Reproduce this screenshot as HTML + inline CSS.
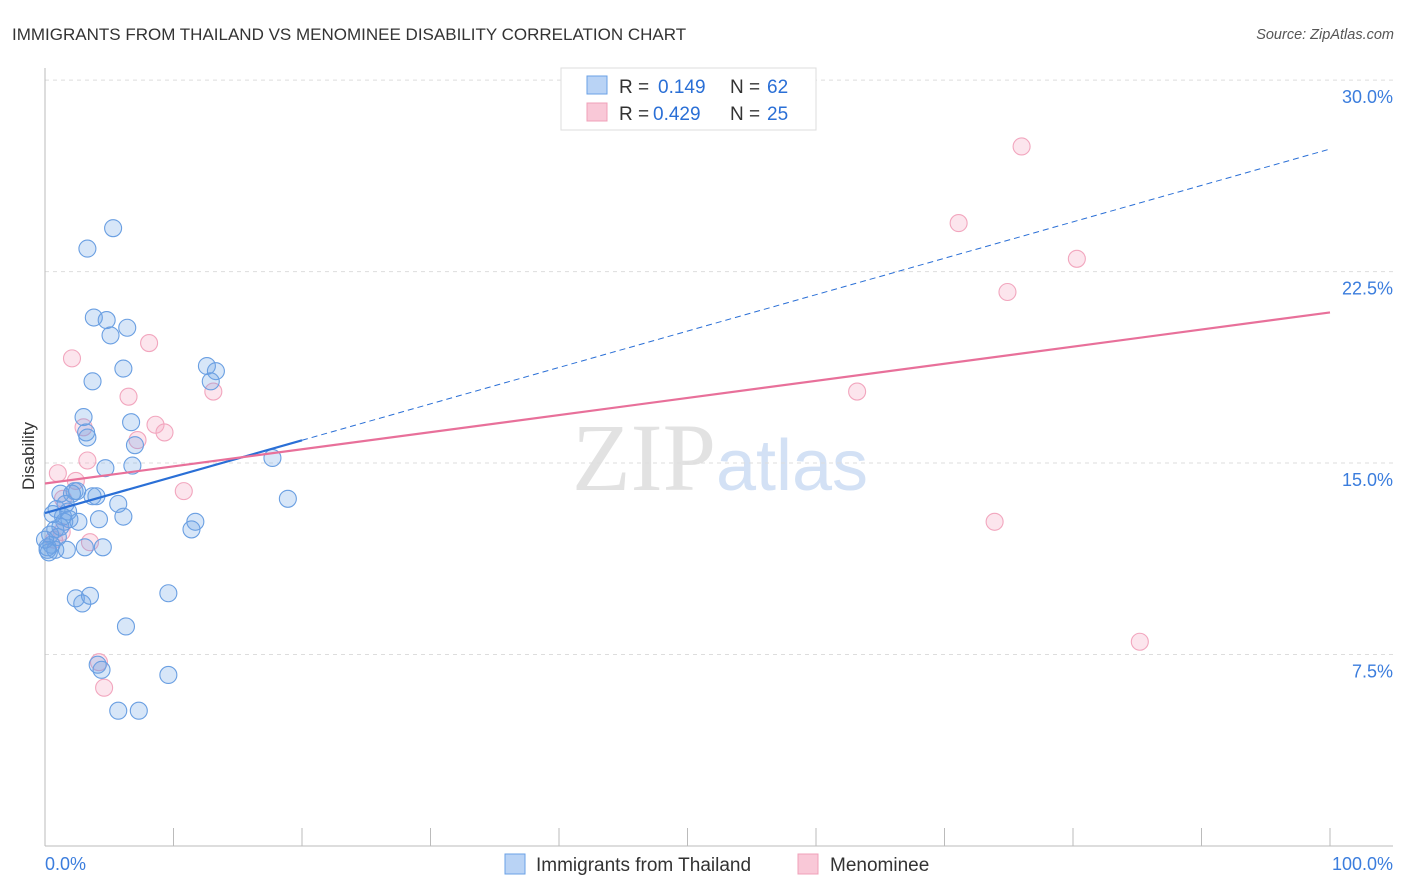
<!DOCTYPE html>
<html><head><meta charset="utf-8"><style>
body{margin:0;background:#fff;font-family:"Liberation Sans",sans-serif;}
</style></head><body>
<svg id="c" width="1406" height="892" style="display:block">
<text x="12" y="40" font-size="17" fill="#333">IMMIGRANTS FROM THAILAND VS MENOMINEE DISABILITY CORRELATION CHART</text>
<text x="1394" y="39" font-size="14.5" fill="#555" font-style="italic" text-anchor="end">Source: ZipAtlas.com</text>
<text x="34" y="456" font-size="17" fill="#333" transform="rotate(-90 34 456)" text-anchor="middle">Disability</text>
<text x="720" y="490" font-size="96" fill="#e2e2e2" text-anchor="middle" font-family="Liberation Serif,serif">ZIP<tspan fill="#d3e1f5" font-family="Liberation Sans,sans-serif" font-size="72">atlas</tspan></text>
<g id="grid"></g><g id="axes"></g><g id="pts"></g><g id="trend"></g>
<g>
<rect x="561" y="68" width="255" height="62" fill="#fff" stroke="#ddd"/>
<rect x="587" y="76" width="20" height="18" fill="#b9d3f5" stroke="#6aa0e6"/>
<text x="619" y="93" font-size="19" fill="#333">R =</text>
<text x="658" y="93" font-size="19" fill="#2a6fd6">0.149</text>
<text x="730" y="93" font-size="19" fill="#333">N =</text>
<text x="767" y="93" font-size="19" fill="#2a6fd6">62</text>
<rect x="587" y="103" width="20" height="18" fill="#f9c8d7" stroke="#f0a0b8"/>
<text x="619" y="120" font-size="19" fill="#333">R =</text>
<text x="653" y="120" font-size="19" fill="#2a6fd6">0.429</text>
<text x="730" y="120" font-size="19" fill="#333">N =</text>
<text x="767" y="120" font-size="19" fill="#2a6fd6">25</text>
</g>
<g>
<rect x="505" y="854" width="20" height="20" fill="#b9d3f5" stroke="#6aa0e6"/>
<text x="536" y="871" font-size="19" fill="#333">Immigrants from Thailand</text>
<rect x="798" y="854" width="20" height="20" fill="#f9c8d7" stroke="#f0a0b8"/>
<text x="830" y="871" font-size="19" fill="#333">Menominee</text>
</g>
</svg>
<script>
const blueX=[5.3,3.3,3.8,4.8,6.4,5.1,6.1,12.6,13.3,12.9,3.7,3.0,6.7,3.3,7.0,6.8,4.7,17.7,18.9,1.2,2.3,2.5,3.7,4.0,5.7,6.1,0.9,1.8,1.9,1.5,4.2,2.6,11.7,11.4,0.8,0.4,1.0,0.5,0.2,0.8,1.7,3.1,4.5,0.3,2.4,2.9,3.5,9.6,6.3,4.1,4.4,9.6,5.7,7.3,1.4,2.1,0.0,1.2,0.6,3.2,1.6,0.2];
const blueY=[24.2,23.4,20.7,20.6,20.3,20.0,18.7,18.8,18.6,18.2,18.2,16.8,16.6,16.0,15.7,14.9,14.8,15.2,13.6,13.8,13.9,13.9,13.7,13.7,13.4,12.9,13.2,13.1,12.8,12.7,12.8,12.7,12.7,12.4,12.4,12.2,12.1,11.8,11.7,11.6,11.6,11.7,11.7,11.5,9.7,9.5,9.8,9.9,8.6,7.1,6.9,6.7,5.3,5.3,12.9,13.8,12.0,12.5,13.0,16.2,13.4,11.6];
const pinkX=[2.1,8.1,6.5,13.1,8.6,9.3,7.2,3.0,3.3,1.0,2.4,10.8,1.4,3.5,1.3,0.7,4.2,4.6,76.0,71.1,80.3,74.9,63.2,73.9,85.2];
const pinkY=[19.1,19.7,17.6,17.8,16.5,16.2,15.9,16.4,15.1,14.6,14.3,13.9,13.6,11.9,12.3,12.0,7.2,6.2,27.4,24.4,23.0,21.7,17.8,12.7,8.0];
const yTicks=[7.5,15.0,22.5,30.0];
const blueTrend=[13.04,27.3];
const pinkTrend=[14.2,20.9];
const NS="http://www.w3.org/2000/svg";
const xs=v=>45+v*12.85, ys=v=>846-v*25.53;
function mk(t,a,p){const e=document.createElementNS(NS,t);for(const k in a)e.setAttribute(k,a[k]);document.getElementById(p).appendChild(e);return e;}
yTicks.forEach(t=>{
 const g=mk('line',{x1:45,x2:1393,y1:ys(t),y2:ys(t),stroke:'#ddd','stroke-dasharray':'4 4'},'grid');
 
 
 const l=mk('text',{x:1393,y:ys(t)+23,'text-anchor':'end','font-size':18,fill:'#3b7ddd'},'grid');
 l.textContent=t.toFixed(1)+'%';
 
 
});
mk('line',{x1:45,x2:45,y1:68,y2:846,stroke:'#bbb'},'axes');
mk('line',{x1:45,x2:1393,y1:846,y2:846,stroke:'#bbb'},'axes');
for(let k=1;k<=10;k++)mk('line',{x1:xs(k*10),x2:xs(k*10),y1:828,y2:846,stroke:'#bbb'},'axes');
const x0=mk('text',{x:45,y:870,'font-size':18,fill:'#3b7ddd'},'axes');x0.textContent='0.0%';


const x1=mk('text',{x:1393,y:870,'font-size':18,fill:'#3b7ddd','text-anchor':'end'},'axes');x1.textContent='100.0%';


pinkX.forEach((x,i)=>{const c=mk('circle',{cx:xs(x),cy:ys(pinkY[i]),r:8.5,fill:'rgba(246,170,196,0.3)',stroke:'#f2a6be','stroke-width':1.1},'pts');

});
blueX.forEach((x,i)=>{const c=mk('circle',{cx:xs(x),cy:ys(blueY[i]),r:8.5,fill:'rgba(110,165,230,0.28)',stroke:'#6a9fe2','stroke-width':1.1},'pts');

});
const bAt=x=>blueTrend[0]+(blueTrend[1]-blueTrend[0])*x/100;
const t1=mk('line',{x1:xs(0),y1:ys(bAt(0)),x2:xs(20),y2:ys(bAt(20)),stroke:'#2a6fd6','stroke-width':2.2},'trend');


const t2=mk('line',{x1:xs(20),y1:ys(bAt(20)),x2:xs(100),y2:ys(bAt(100)),stroke:'#2a6fd6','stroke-width':1,'stroke-dasharray':'6 4'},'trend');


const t3=mk('line',{x1:xs(0),y1:ys(pinkTrend[0]),x2:xs(100),y2:ys(pinkTrend[1]),stroke:'#e8709a','stroke-width':2.2},'trend');


</script>
</body></html>
